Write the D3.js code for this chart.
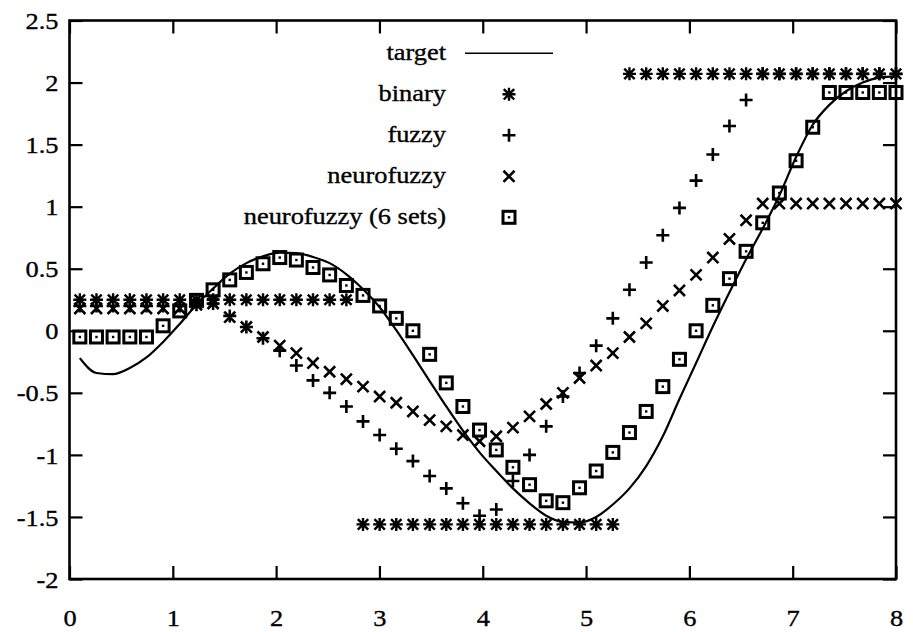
<!DOCTYPE html>
<html>
<head>
<meta charset="utf-8">
<script src="https://cdn.jsdelivr.net/npm/d3@7"></script>
<style>
  html, body { margin: 0; padding: 0; background: #fff; }
  svg { display: block; }
  text { font-family: "Liberation Serif", "Times New Roman", serif; fill: #000; stroke: #000; stroke-width: 0.35px; }
</style>
</head>
<body>
<svg id="chart" width="913" height="632"></svg>
<script>
// Sample positions shared by all series
const xs = [0.100, 0.261, 0.422, 0.584, 0.745, 0.906, 1.067, 1.229, 1.390, 1.551,
            1.712, 1.873, 2.035, 2.196, 2.357, 2.518, 2.680, 2.841, 3.002, 3.163,
            3.324, 3.486, 3.647, 3.808, 3.969, 4.131, 4.292, 4.453, 4.614, 4.776,
            4.937, 5.098, 5.259, 5.420, 5.582, 5.743, 5.904, 6.065, 6.227, 6.388,
            6.549, 6.710, 6.871, 7.033, 7.194, 7.355, 7.516, 7.678, 7.839, 8.000];

const target = [-0.22, -0.34, -0.35, -0.30, -0.215, -0.09, 0.055, 0.21, 0.34, 0.46,
                0.545, 0.60, 0.63, 0.625, 0.595, 0.545, 0.455, 0.335, 0.19, 0.005,
                -0.197, -0.405, -0.61, -0.805, -0.98, -1.13, -1.27, -1.39, -1.49, -1.54,
                -1.545, -1.50, -1.40, -1.27, -1.09, -0.85, -0.55, -0.26, 0.034, 0.31,
                0.577, 0.824, 1.09, 1.40, 1.66, 1.82, 1.93, 2.00, 2.04, 2.05];

const binary = [0.25, 0.25, 0.25, 0.25, 0.25, 0.25, 0.25, 0.25, 0.25, 0.25,
                0.25, 0.25, 0.25, 0.25, 0.25, 0.25, 0.25, -1.56, -1.56, -1.56,
                -1.56, -1.56, -1.56, -1.56, -1.56, -1.56, -1.56, -1.56, -1.56, -1.56,
                -1.56, -1.56, -1.56, 2.07, 2.07, 2.07, 2.07, 2.07, 2.07, 2.07,
                2.07, 2.07, 2.07, 2.07, 2.07, 2.07, 2.07, 2.07, 2.07, 2.07];

const fuzzy = [0.20, 0.20, 0.20, 0.20, 0.20, 0.20, 0.20, 0.21, 0.22, 0.12,
               0.03, -0.06, -0.16, -0.28, -0.40, -0.50, -0.61, -0.73, -0.84, -0.95,
               -1.05, -1.17, -1.27, -1.39, -1.49, -1.44, -1.21, -1.00, -0.77, -0.53,
               -0.34, -0.12, 0.10, 0.33, 0.55, 0.77, 0.99, 1.21, 1.42, 1.65,
               1.86, 2.07, 2.07, 2.07, 2.07, 2.07, 2.07, 2.07, 2.07, 2.07];

const neurofuzzy = [0.18, 0.18, 0.18, 0.18, 0.18, 0.18, 0.18, 0.21, 0.22, 0.11,
                    0.03, -0.05, -0.12, -0.18, -0.26, -0.33, -0.39, -0.45, -0.53, -0.58,
                    -0.65, -0.72, -0.77, -0.84, -0.89, -0.85, -0.78, -0.69, -0.59, -0.50,
                    -0.38, -0.28, -0.18, -0.05, 0.06, 0.20, 0.325, 0.45, 0.59, 0.74,
                    0.89, 1.025, 1.025, 1.025, 1.025, 1.025, 1.025, 1.025, 1.025, 1.025];

const neuro6 = [-0.05, -0.05, -0.05, -0.05, -0.05, 0.04, 0.16, 0.245, 0.33, 0.41,
                0.47, 0.54, 0.59, 0.57, 0.51, 0.45, 0.365, 0.285, 0.20, 0.10,
                0.0, -0.19, -0.42, -0.61, -0.80, -0.96, -1.10, -1.24, -1.37, -1.385,
                -1.265, -1.13, -0.98, -0.82, -0.65, -0.45, -0.23, 0.0, 0.205, 0.42,
                0.64, 0.87, 1.11, 1.37, 1.64, 1.92, 1.92, 1.92, 1.92, 1.92];

const xTicks = [0, 1, 2, 3, 4, 5, 6, 7, 8];
const yTicks = [-2, -1.5, -1, -0.5, 0, 0.5, 1, 1.5, 2, 2.5];
const legendLabels = ["target", "binary", "fuzzy", "neurofuzzy", "neurofuzzy (6 sets)"];

const svg = d3.select("#chart");
const x = d3.scaleLinear().domain([0, 8]).range([69.5, 896]);
const y = d3.scaleLinear().domain([-2, 2.5]).range([579, 20.5]);

const fontSize = 24;
const stretch = 1.1;

// Axes: ticks point inward on all four sides
const tickLen = 13;
const gx = svg.append("g").attr("transform", `translate(0,${y(-2)})`)
  .call(d3.axisBottom(x).tickValues(xTicks).tickFormat(d3.format("d"))
    .tickSizeInner(-tickLen).tickSizeOuter(0).tickPadding(30));
const gy = svg.append("g").attr("transform", `translate(${x(0)},0)`)
  .call(d3.axisLeft(y).tickValues(yTicks).tickFormat(d => String(d))
    .tickSizeInner(-tickLen).tickSizeOuter(0).tickPadding(11));
svg.append("g").attr("transform", `translate(0,${y(2.5)})`)
  .call(d3.axisTop(x).tickValues(xTicks).tickFormat("")
    .tickSizeInner(-tickLen).tickSizeOuter(0));
svg.append("g").attr("transform", `translate(${x(8)},0)`)
  .call(d3.axisRight(y).tickValues(yTicks).tickFormat("")
    .tickSizeInner(-tickLen).tickSizeOuter(0));

svg.selectAll(".domain").remove();
svg.selectAll(".tick line").attr("stroke", "#000").attr("stroke-width", 2.2);
svg.selectAll(".tick text")
  .style("font-family", '"Liberation Serif", serif')
  .style("font-size", fontSize + "px")
  .attr("fill", "#000")
  .attr("transform", `scale(${stretch},1)`);
gy.selectAll(".tick text").attr("x", -11 / stretch).attr("dy", "0.34em");

// Plot frame
svg.append("rect")
  .attr("x", x(0)).attr("y", y(2.5))
  .attr("width", x(8) - x(0)).attr("height", y(-2) - y(2.5))
  .attr("fill", "none").attr("stroke", "#000").attr("stroke-width", 2.6);

// Marker shapes
const S = 6.5;
const shapes = {
  plus: `M${-S},0H${S}M0,${-S}V${S}`,
  times: `M${-S*0.85},${-S*0.85}L${S*0.85},${S*0.85}M${-S*0.85},${S*0.85}L${S*0.85},${-S*0.85}`,
  star: `M${-S},0H${S}M0,${-S}V${S}M${-S*0.8},${-S*0.8}L${S*0.8},${S*0.8}M${-S*0.8},${S*0.8}L${S*0.8},${-S*0.8}`
};

function drawMarks(values, kind, g) {
  const pts = xs.map((xv, i) => [x(xv), y(values[i])]);
  drawMarkAt(g, pts, kind);
}
function drawMarkAt(g, pts, kind) {
  if (kind === "box") {
    const gg = g.selectAll(null).data(pts).enter().append("g")
      .attr("transform", d => `translate(${d[0]},${d[1]})`);
    gg.append("rect").attr("x", -6).attr("y", -6).attr("width", 12).attr("height", 12)
      .attr("fill", "none").attr("stroke", "#000").attr("stroke-width", 3);
    gg.append("rect").attr("x", -1.2).attr("y", -1.2).attr("width", 2.4).attr("height", 2.4)
      .attr("fill", "#000");
  } else {
    g.selectAll(null).data(pts).enter().append("path")
      .attr("transform", d => `translate(${d[0]},${d[1]})`)
      .attr("d", shapes[kind])
      .attr("fill", "none").attr("stroke", "#000")
      .attr("stroke-width", kind === "star" ? 2.4 : 2.6);
  }
}

const plot = svg.append("g");

// Target curve
const line = d3.line().x(d => x(d[0])).y(d => y(d[1])).curve(d3.curveMonotoneX);
plot.append("path")
  .datum(xs.map((xv, i) => [xv, target[i]]))
  .attr("d", line)
  .attr("fill", "none").attr("stroke", "#000").attr("stroke-width", 2.2);

drawMarks(binary, "star", plot.append("g"));
drawMarks(fuzzy, "plus", plot.append("g"));
drawMarks(neurofuzzy, "times", plot.append("g"));
drawMarks(neuro6, "box", plot.append("g"));

// Legend
const legX = 446, legY0 = 53.3, legDy = 41, symX = 509;
const leg = svg.append("g");
legendLabels.forEach((lab, i) => {
  const cy = legY0 + i * legDy;
  leg.append("text")
    .attr("transform", `translate(${legX},${cy + 7}) scale(${stretch},1)`)
    .attr("text-anchor", "end")
    .style("font-size", fontSize + "px")
    .text(lab);
});
leg.append("line").attr("x1", 465).attr("x2", 553).attr("y1", legY0).attr("y2", legY0)
  .attr("stroke", "#000").attr("stroke-width", 1.6);
["star", "plus", "times", "box"].forEach((k, i) => {
  drawMarkAt(leg.append("g"), [[symX, legY0 + (i + 1) * legDy]], k);
});
</script>
</body>
</html>
